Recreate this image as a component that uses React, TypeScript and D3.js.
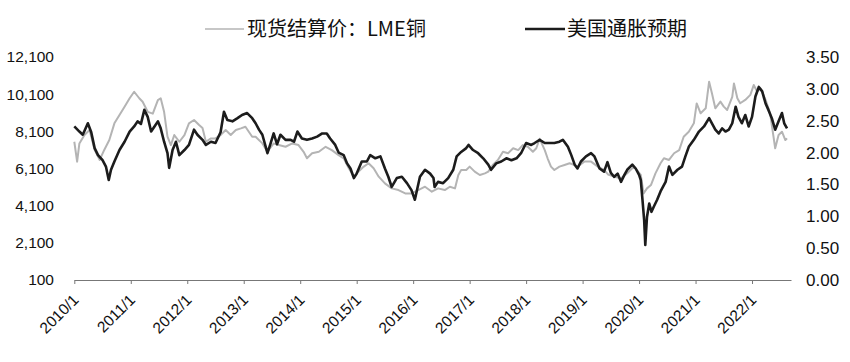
// App.tsx > CopperInflationChart

// react
import React, {useRef, useEffect} from 'react';

// modules
import * as d3 from 'd3';

// data (decimal year, value)
const copperSeries: [number, number][] = [
    [2010.00, 7540], [2010.05, 6465], [2010.09, 7450], [2010.18, 7900], [2010.27, 8170], [2010.36, 7100],
    [2010.45, 6560], [2010.53, 7100], [2010.62, 7630], [2010.71, 8530], [2010.80, 8980], [2010.89, 9420],
    [2010.98, 9880], [2011.06, 10230], [2011.15, 9880], [2011.21, 9690], [2011.30, 9150], [2011.39, 9050],
    [2011.48, 9780], [2011.53, 9880], [2011.59, 9150], [2011.65, 7810], [2011.71, 7360], [2011.77, 7900],
    [2011.86, 7540], [2011.95, 7900], [2012.03, 8530], [2012.12, 8710], [2012.21, 8440], [2012.27, 8280],
    [2012.33, 7540], [2012.42, 7720], [2012.50, 7720], [2012.59, 7900], [2012.68, 8170], [2012.77, 7900],
    [2012.86, 8170], [2012.95, 8260], [2013.03, 8350], [2013.15, 7810], [2013.21, 7810], [2013.33, 7450],
    [2013.42, 7000], [2013.53, 7450], [2013.62, 7360], [2013.74, 7270], [2013.86, 7450], [2013.97, 7360],
    [2014.06, 7000], [2014.12, 6650], [2014.21, 6920], [2014.33, 7000], [2014.45, 7270], [2014.56, 7090],
    [2014.68, 6820], [2014.77, 6650], [2014.86, 6110], [2014.95, 5660], [2015.03, 5930], [2015.12, 6190],
    [2015.21, 6380], [2015.30, 6110], [2015.39, 5660], [2015.50, 5300], [2015.62, 5030], [2015.74, 4940],
    [2015.86, 4760], [2015.97, 4760], [2016.09, 4940], [2016.21, 5120], [2016.33, 4850], [2016.44, 5030],
    [2016.56, 4940], [2016.65, 5120], [2016.74, 5030], [2016.80, 5750], [2016.85, 6020], [2016.94, 6020],
    [2017.00, 6200], [2017.09, 5930], [2017.18, 5750], [2017.27, 5840], [2017.33, 5930], [2017.41, 6290],
    [2017.50, 6560], [2017.59, 7000], [2017.68, 6920], [2017.77, 7190], [2017.86, 7090], [2017.94, 7360],
    [2018.03, 7270], [2018.12, 7000], [2018.18, 7190], [2018.24, 7700], [2018.33, 7090], [2018.38, 6650],
    [2018.44, 6200], [2018.50, 6020], [2018.59, 6200], [2018.68, 6290], [2018.77, 6380], [2018.86, 6290],
    [2018.91, 6200], [2019.03, 6470], [2019.15, 6470], [2019.27, 6200], [2019.38, 6020], [2019.45, 5780],
    [2019.56, 5660], [2019.68, 5570], [2019.79, 5840], [2019.91, 6200], [2020.03, 5750], [2020.08, 4760],
    [2020.14, 5030], [2020.21, 5210], [2020.29, 5840], [2020.38, 6380], [2020.44, 6650], [2020.53, 6560],
    [2020.62, 6920], [2020.71, 7090], [2020.79, 7810], [2020.88, 8080], [2020.97, 8530], [2021.02, 9600],
    [2021.09, 9070], [2021.18, 9340], [2021.24, 10770], [2021.29, 10150], [2021.35, 9340], [2021.44, 9700],
    [2021.50, 9430], [2021.56, 9250], [2021.65, 9960], [2021.68, 10680], [2021.74, 9880], [2021.79, 9610],
    [2021.88, 9790], [2021.97, 10060], [2022.03, 10590], [2022.09, 10240], [2022.15, 10410], [2022.24, 9790],
    [2022.32, 9070], [2022.38, 7810], [2022.41, 7190], [2022.47, 7900], [2022.53, 8080], [2022.59, 7630],
    [2022.62, 7720],
];

const inflationSeries: [number, number][] = [
    [2010.00, 2.41], [2010.09, 2.33], [2010.15, 2.28], [2010.24, 2.46], [2010.30, 2.32], [2010.36, 2.07],
    [2010.42, 1.96], [2010.50, 1.88], [2010.56, 1.78], [2010.61, 1.57], [2010.65, 1.73], [2010.71, 1.86],
    [2010.80, 2.04], [2010.89, 2.17], [2010.98, 2.33], [2011.06, 2.41], [2011.12, 2.49], [2011.18, 2.45],
    [2011.24, 2.67], [2011.30, 2.56], [2011.36, 2.33], [2011.42, 2.41], [2011.48, 2.49], [2011.53, 2.38],
    [2011.59, 2.17], [2011.65, 1.99], [2011.68, 1.76], [2011.74, 2.04], [2011.80, 2.17], [2011.86, 1.96],
    [2011.95, 2.04], [2012.03, 2.12], [2012.12, 2.36], [2012.18, 2.28], [2012.27, 2.20], [2012.33, 2.12],
    [2012.42, 2.17], [2012.50, 2.15], [2012.59, 2.32], [2012.65, 2.64], [2012.71, 2.51], [2012.80, 2.49],
    [2012.89, 2.54], [2012.97, 2.59], [2013.06, 2.62], [2013.15, 2.54], [2013.21, 2.46], [2013.27, 2.36],
    [2013.33, 2.28], [2013.42, 1.99], [2013.47, 2.13], [2013.53, 2.30], [2013.59, 2.13], [2013.65, 2.28],
    [2013.74, 2.20], [2013.83, 2.20], [2013.89, 2.17], [2013.95, 2.33], [2014.03, 2.22], [2014.12, 2.20],
    [2014.21, 2.22], [2014.30, 2.25], [2014.39, 2.30], [2014.47, 2.30], [2014.53, 2.22], [2014.62, 2.12],
    [2014.68, 2.00], [2014.77, 1.96], [2014.83, 1.83], [2014.89, 1.75], [2014.95, 1.60], [2015.00, 1.67],
    [2015.09, 1.86], [2015.18, 1.86], [2015.24, 1.96], [2015.33, 1.91], [2015.42, 1.94], [2015.50, 1.75],
    [2015.56, 1.62], [2015.62, 1.46], [2015.71, 1.60], [2015.80, 1.62], [2015.89, 1.52], [2015.97, 1.41],
    [2016.03, 1.26], [2016.12, 1.62], [2016.21, 1.73], [2016.30, 1.67], [2016.36, 1.60], [2016.38, 1.46],
    [2016.44, 1.54], [2016.53, 1.52], [2016.62, 1.60], [2016.71, 1.73], [2016.77, 1.94], [2016.85, 2.01],
    [2016.94, 2.07], [2016.98, 2.12], [2017.06, 2.04], [2017.15, 1.99], [2017.24, 1.91], [2017.33, 1.81],
    [2017.38, 1.73], [2017.47, 1.83], [2017.56, 1.86], [2017.65, 1.91], [2017.74, 1.88], [2017.83, 1.91],
    [2017.91, 1.99], [2018.00, 2.15], [2018.09, 2.12], [2018.15, 2.15], [2018.24, 2.20], [2018.33, 2.15],
    [2018.41, 2.15], [2018.50, 2.15], [2018.59, 2.17], [2018.65, 2.20], [2018.74, 2.09], [2018.80, 1.96],
    [2018.86, 1.81], [2018.91, 1.75], [2018.97, 1.86], [2019.06, 1.94], [2019.15, 1.99], [2019.21, 1.94],
    [2019.30, 1.75], [2019.38, 1.70], [2019.44, 1.85], [2019.50, 1.68], [2019.56, 1.62], [2019.62, 1.67],
    [2019.68, 1.54], [2019.74, 1.65], [2019.79, 1.73], [2019.88, 1.81], [2019.94, 1.75], [2020.00, 1.65],
    [2020.03, 1.57], [2020.06, 1.26], [2020.09, 0.94], [2020.11, 0.55], [2020.14, 0.99], [2020.18, 1.20],
    [2020.22, 1.07], [2020.26, 1.15], [2020.32, 1.26], [2020.38, 1.39], [2020.47, 1.54], [2020.53, 1.78],
    [2020.59, 1.65], [2020.68, 1.73], [2020.76, 1.78], [2020.82, 1.94], [2020.88, 2.09], [2020.97, 2.20],
    [2021.06, 2.33], [2021.15, 2.41], [2021.24, 2.54], [2021.29, 2.46], [2021.35, 2.36], [2021.41, 2.30],
    [2021.47, 2.38], [2021.53, 2.33], [2021.59, 2.36], [2021.65, 2.46], [2021.71, 2.72], [2021.76, 2.56],
    [2021.82, 2.46], [2021.88, 2.59], [2021.94, 2.41], [2022.00, 2.56], [2022.06, 2.88], [2022.12, 3.03],
    [2022.18, 2.96], [2022.24, 2.77], [2022.29, 2.67], [2022.35, 2.54], [2022.41, 2.36], [2022.47, 2.49],
    [2022.53, 2.62], [2022.57, 2.46], [2022.62, 2.38],
];

const yearTicks = [2010, 2011, 2012, 2013, 2014, 2015, 2016, 2017, 2018, 2019, 2020, 2021, 2022];
const leftTicks = [100, 2100, 4100, 6100, 8100, 10100, 12100];
const rightTicks = [0, 0.5, 1, 1.5, 2, 2.5, 3, 3.5];
const legendLabels = ['现货结算价：LME铜', '美国通胀预期'];

// start
export default function App(){
    const svgRef = useRef<SVGSVGElement>(null);

    // state
    const svgWidth = 850;
    const svgHeight = 362;
    const latin = '"Liberation Sans", Arial, sans-serif';
    const cjk = '"Noto Sans CJK SC", "Liberation Sans", sans-serif';

    useEffect(() => {
        const svg = d3.select(svgRef.current);
        svg.selectAll('*').remove();

        // scales
        const xScale = d3.scaleLinear().domain([2010, 2022.69]).range([74.3, 791]);
        const yLeft = d3.scaleLinear().domain([100, 12100]).range([280, 57]);
        const yRight = d3.scaleLinear().domain([0, 3.5]).range([280, 57]);

        // axes
        const xAxis = svg.append('g')
            .attr('transform', `translate(0,${yLeft(100)})`)
            .call(d3.axisBottom(xScale).tickValues(yearTicks).tickSize(4).tickSizeOuter(0).tickFormat((d) => `${d}/1`));
        xAxis.select('.domain').attr('stroke', '#777');
        xAxis.selectAll('.tick line').attr('stroke', '#777');
        xAxis.selectAll('.tick text')
            .attr('font-family', latin)
            .attr('font-size', 15.5)
            .attr('fill', '#111')
            .attr('text-anchor', 'end')
            .attr('x', 0)
            .attr('y', 0)
            .attr('dy', '0.35em')
            .attr('transform', 'translate(1,17) rotate(-45)');

        const leftAxis = svg.append('g')
            .attr('transform', `translate(58,0)`)
            .call(d3.axisLeft(yLeft).tickValues(leftTicks).tickSize(0).tickPadding(4).tickFormat(d3.format(',')));
        leftAxis.select('.domain').remove();
        leftAxis.selectAll('.tick text')
            .attr('font-family', latin)
            .attr('font-size', 15.5)
            .attr('fill', '#111');

        const rightAxis = svg.append('g')
            .attr('transform', `translate(802,0)`)
            .call(d3.axisRight(yRight).tickValues(rightTicks).tickSize(0).tickPadding(4).tickFormat(d3.format('.2f')));
        rightAxis.select('.domain').remove();
        rightAxis.selectAll('.tick text')
            .attr('font-family', latin)
            .attr('font-size', 17)
            .attr('fill', '#111');

        // lines
        const copperLine = d3.line<[number, number]>()
            .x((d) => xScale(d[0]))
            .y((d) => yLeft(d[1]));
        const inflationLine = d3.line<[number, number]>()
            .x((d) => xScale(d[0]))
            .y((d) => yRight(d[1]));

        svg.append('path')
            .datum(copperSeries)
            .attr('d', copperLine)
            .attr('fill', 'none')
            .attr('stroke', '#b4b4b4')
            .attr('stroke-width', 2)
            .attr('stroke-linejoin', 'round');
        svg.append('path')
            .datum(inflationSeries)
            .attr('d', inflationLine)
            .attr('fill', 'none')
            .attr('stroke', '#1c1c1c')
            .attr('stroke-width', 2.6)
            .attr('stroke-linejoin', 'round');

        // legend
        const legendItems = [
            {label: legendLabels[0], color: '#b4b4b4', width: 1.6, x1: 205, x2: 244, tx: 247},
            {label: legendLabels[1], color: '#1c1c1c', width: 2.4, x1: 525, x2: 565, tx: 567},
        ];
        const legend = svg.append('g');
        legendItems.forEach((item) => {
            legend.append('line')
                .attr('x1', item.x1).attr('x2', item.x2)
                .attr('y1', 29).attr('y2', 29)
                .attr('stroke', item.color)
                .attr('stroke-width', item.width);
            legend.append('text')
                .attr('x', item.tx)
                .attr('y', 36)
                .attr('font-family', cjk)
                .attr('font-size', 20)
                .attr('fill', '#111')
                .text(item.label);
        });
    }, []);

    return(
        <svg ref={svgRef} width={svgWidth} height={svgHeight}
            style={{position: 'absolute', left: 0, top: 0, background: '#fff'}}></svg>
    )
}
